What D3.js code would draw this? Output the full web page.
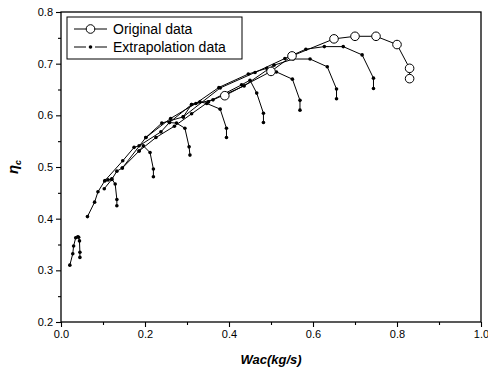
<!DOCTYPE html>
<html>
<head>
<meta charset="utf-8">
<script src="https://cdn.jsdelivr.net/npm/d3@7"></script>
<style>
  body { margin: 0; background: #fff; }
  svg { font-family: "Liberation Sans", Arial, sans-serif; }
</style>
</head>
<body>
<svg id="chart" width="488" height="372"></svg>
<script>
// Extrapolated speed lines: [Wac, eta] pairs
var speed1 = [[0.021,0.310],[0.028,0.332],[0.030,0.347],[0.035,0.363],[0.040,0.365],[0.042,0.364],[0.044,0.357],[0.045,0.335],[0.045,0.325]];
var speed2 = [[0.063,0.404],[0.080,0.432],[0.088,0.452],[0.104,0.473],[0.112,0.475],[0.121,0.477],[0.129,0.467],[0.133,0.437],[0.133,0.425]];
var speed3 = [[0.103,0.458],[0.121,0.476],[0.133,0.492],[0.146,0.498],[0.186,0.531],[0.196,0.541],[0.212,0.528],[0.220,0.496],[0.220,0.481]];
var speed4 = [[0.105,0.474],[0.147,0.512],[0.174,0.538],[0.186,0.541],[0.238,0.568],[0.258,0.586],[0.275,0.585],[0.295,0.575],[0.305,0.539],[0.307,0.523]];
var speed5 = [[0.146,0.498],[0.202,0.557],[0.240,0.585],[0.291,0.597],[0.311,0.621],[0.331,0.626],[0.347,0.623],[0.379,0.612],[0.394,0.575],[0.394,0.557]];
var speed6 = [[0.186,0.531],[0.226,0.557],[0.270,0.579],[0.311,0.603],[0.351,0.626],[0.430,0.659],[0.450,0.668],[0.466,0.643],[0.482,0.604],[0.482,0.586]];
var speed7 = [[0.202,0.557],[0.261,0.594],[0.321,0.623],[0.376,0.654],[0.446,0.680],[0.490,0.691],[0.513,0.684],[0.551,0.670],[0.569,0.629],[0.569,0.610]];
var speed8 = [[0.258,0.586],[0.311,0.621],[0.362,0.630],[0.436,0.657],[0.507,0.697],[0.553,0.709],[0.593,0.709],[0.634,0.694],[0.656,0.651],[0.656,0.632]];
var speed9 = [[0.291,0.597],[0.379,0.653],[0.462,0.683],[0.533,0.710],[0.583,0.728],[0.627,0.733],[0.672,0.733],[0.717,0.717],[0.744,0.672],[0.744,0.652]];
var extrapolation = [speed1, speed2, speed3, speed4, speed5, speed6, speed7, speed8, speed9];

// Original measured data (top speed line)
var originalWac = [0.39, 0.50, 0.55, 0.65, 0.70, 0.75, 0.80, 0.83, 0.83];
var originalEta = [0.638, 0.685, 0.715, 0.748, 0.753, 0.753, 0.737, 0.691, 0.671];

var xTicks = [0.0, 0.2, 0.4, 0.6, 0.8, 1.0];
var yTicks = [0.2, 0.3, 0.4, 0.5, 0.6, 0.7, 0.8];
var legendLabels = ["Original data", "Extrapolation data"];

var svg = d3.select("#chart");
var mLeft = 61, mRight = 481, mTop = 12, mBottom = 322;

var x = d3.scaleLinear().domain([0, 1]).range([mLeft, mRight]);
var y = d3.scaleLinear().domain([0.2, 0.8]).range([mBottom, mTop]);

// Frame
svg.append("rect")
   .attr("x", mLeft).attr("y", mTop)
   .attr("width", mRight - mLeft).attr("height", mBottom - mTop)
   .attr("fill", "none").attr("stroke", "#000").attr("stroke-width", 1.3);

// Axes (outward ticks, minor ticks between)
svg.append("g").attr("transform", "translate(0," + mBottom + ")")
   .call(d3.axisBottom(x).tickValues(xTicks).tickFormat(d3.format(".1f")).tickSize(5).tickPadding(3));
svg.append("g").attr("transform", "translate(0," + mBottom + ")")
   .call(d3.axisBottom(x).tickValues(d3.range(0.1, 1, 0.2)).tickFormat("").tickSize(3));
svg.append("g").attr("transform", "translate(" + mLeft + ",0)")
   .call(d3.axisLeft(y).tickValues(yTicks).tickFormat(d3.format(".1f")).tickSize(5).tickPadding(3));
svg.append("g").attr("transform", "translate(" + mLeft + ",0)")
   .call(d3.axisLeft(y).tickValues(d3.range(0.25, 0.8, 0.1)).tickFormat("").tickSize(3));

svg.selectAll(".domain").remove();
svg.selectAll(".tick line").attr("stroke", "#000").attr("stroke-width", 1.1);
svg.selectAll(".tick text").attr("font-size", 11).attr("fill", "#000")
   .attr("font-family", "Liberation Sans, Arial, sans-serif");

// Axis titles
svg.append("text")
   .attr("x", (mLeft + mRight) / 2).attr("y", 364)
   .attr("text-anchor", "middle")
   .attr("font-size", 13).attr("font-weight", "bold").attr("font-style", "italic")
   .text("Wac(kg/s)");

var ylab = svg.append("text")
   .attr("transform", "translate(18," + ((mTop + mBottom) / 2) + ") rotate(-90)")
   .attr("text-anchor", "middle")
   .attr("font-size", 15).attr("font-weight", "bold").attr("font-style", "italic");
ylab.append("tspan").text("η");
ylab.append("tspan").attr("font-size", 9).attr("dy", 3).text("c");

var line = d3.line().x(function(d) { return x(d[0]); }).y(function(d) { return y(d[1]); });

// Extrapolation lines with small dots
var ext = svg.append("g");
ext.selectAll("path")
   .data(extrapolation)
   .enter().append("path")
   .attr("d", line)
   .attr("fill", "none").attr("stroke", "#000").attr("stroke-width", 1);
ext.selectAll("circle")
   .data(d3.merge(extrapolation))
   .enter().append("circle")
   .attr("cx", function(d) { return x(d[0]); })
   .attr("cy", function(d) { return y(d[1]); })
   .attr("r", 1.8).attr("fill", "#000");

// Original data with hollow circles
var orig = d3.zip(originalWac, originalEta);
svg.append("path")
   .datum(orig)
   .attr("d", line)
   .attr("fill", "none").attr("stroke", "#000").attr("stroke-width", 1);
svg.append("g").selectAll("circle")
   .data(orig)
   .enter().append("circle")
   .attr("cx", function(d) { return x(d[0]); })
   .attr("cy", function(d) { return y(d[1]); })
   .attr("r", 4.3).attr("fill", "#fff").attr("stroke", "#000").attr("stroke-width", 1);

// Legend
var lg = svg.append("g");
lg.append("rect")
   .attr("x", 67).attr("y", 17).attr("width", 175).attr("height", 42)
   .attr("fill", "#fff").attr("stroke", "#000").attr("stroke-width", 1);
var rows = [29, 47];
rows.forEach(function(ry, i) {
  if (i === 0) {
    lg.append("line").attr("x1", 74).attr("x2", 107).attr("y1", ry).attr("y2", ry)
      .attr("stroke", "#000");
    lg.append("circle").attr("cx", 90.5).attr("cy", ry).attr("r", 4.3)
      .attr("fill", "#fff").attr("stroke", "#000");
  } else {
    lg.append("line").attr("x1", 74).attr("x2", 86).attr("y1", ry).attr("y2", ry).attr("stroke", "#000");
    lg.append("line").attr("x1", 95).attr("x2", 107).attr("y1", ry).attr("y2", ry).attr("stroke", "#000");
    lg.append("circle").attr("cx", 90.5).attr("cy", ry).attr("r", 1.8).attr("fill", "#000");
  }
  lg.append("text").attr("x", 113).attr("y", ry + 5)
    .attr("font-size", 14).attr("fill", "#000")
    .text(legendLabels[i]);
});
</script>
</body>
</html>
